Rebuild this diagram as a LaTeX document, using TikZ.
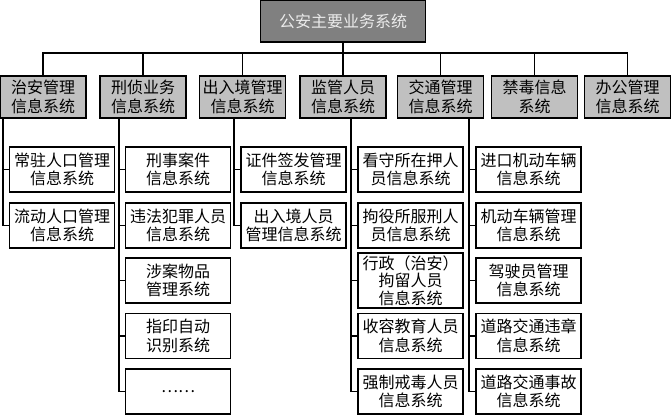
\documentclass[tikz,border=0pt]{standalone}
\usepackage{fontspec}
\newfontfamily\cjk{Noto Sans CJK SC}
\usepackage{tikz}
\usetikzlibrary{calc}

\definecolor{topgray}{RGB}{128,128,128}
\definecolor{midgray}{RGB}{192,192,192}

\tikzset{
  topbox/.style={draw, line width=1.3pt, fill=topgray, text=white!92!black,
    minimum width=165pt, minimum height=42pt, inner sep=0pt,
    font=\cjk\fontsize{16pt}{18.5pt}\selectfont},
  mainbox/.style={draw, line width=1.3pt, fill=midgray,
    minimum width=86pt, minimum height=42pt, inner sep=0pt, align=center,
    font=\cjk\fontsize{16pt}{18.5pt}\selectfont},
  subbox/.style={draw, line width=1.3pt, fill=white,
    minimum width=105pt, minimum height=45pt, inner sep=0pt, align=center,
    font=\cjk\fontsize{16pt}{18.5pt}\selectfont},
  link/.style={line width=1.8pt}
}

\begin{document}
\begin{tikzpicture}[x=1pt, y=-1pt, line join=miter]
\useasboundingbox (0,0) rectangle (671,415);

% Sistema principale
\node[topbox] (top) at (343,21) {公安主要业务系统};
\coordinate (bus) at (343,53);

% Sottosistemi
\node[mainbox] (zhian)    at (43,97)    {治安管理\\信息系统};
\node[mainbox] (xingzhen) at (143,97)   {刑侦业务\\信息系统};
\node[mainbox] (churu)    at (242.5,97) {出入境管理\\信息系统};
\node[mainbox] (jianguan) at (343,97)   {监管人员\\信息系统};
\node[mainbox] (jiaotong) at (440.5,97) {交通管理\\信息系统};
\node[mainbox] (jindu)    at (534.5,97) {禁毒信息\\系统};
\node[mainbox] (bangong)  at (627.5,97) {办公管理\\信息系统};

\draw[link] (top.south) -- (bus);
\foreach \n in {zhian,xingzhen,churu,jianguan,jiaotong,jindu,bangong}
  \draw[link] (\n.north) |- (bus);

%治安
\node[subbox] (za1) at (62,169.5) {常驻人口管理\\信息系统};
\node[subbox] (za2) at (62,225.5) {流动人口管理\\信息系统};

% 刑侦
\node[subbox] (xz1) at (178,169.5) {刑事案件\\信息系统};
\node[subbox] (xz2) at (178,225.5) {违法犯罪人员\\信息系统};
\node[subbox] (xz3) at (178,280.5) {涉案物品\\管理系统};
\node[subbox] (xz4) at (178,336)   {指印自动\\识别系统};
\node[subbox] (xz5) at (178,391.5) {……};

% 出入境
\node[subbox] (cr1) at (293.5,169.5) {证件签发管理\\信息系统};
\node[subbox] (cr2) at (293.5,225.5) {出入境人员\\管理信息系统};

% 监管
\node[subbox] (jg1) at (410.5,169.5) {看守所在押人\\员信息系统};
\node[subbox] (jg2) at (410.5,225.5) {拘役所服刑人\\员信息系统};
\node[subbox, minimum height=55pt,
  font=\cjk\fontsize{16pt}{17.5pt}\selectfont]
              (jg3) at (410.5,280.5) {行政（治安）\\拘留人员\\信息系统};
\node[subbox] (jg4) at (410.5,336)   {收容教育人员\\信息系统};
\node[subbox] (jg5) at (410.5,391.5) {强制戒毒人员\\信息系统};

% 交通
\node[subbox] (jt1) at (528.5,169.5) {进口机动车辆\\信息系统};
\node[subbox] (jt2) at (528.5,225.5) {机动车辆管理\\信息系统};
\node[subbox] (jt3) at (528.5,280.5) {驾驶员管理\\信息系统};
\node[subbox] (jt4) at (528.5,336)   {道路交通违章\\信息系统};
\node[subbox] (jt5) at (528.5,391.5) {道路交通事故\\信息系统};

% Collegamenti
\foreach \g/\c/\k in {zhian/za/2, xingzhen/xz/5, churu/cr/2, jianguan/jg/5, jiaotong/jt/5} {
  \coordinate (\c-s) at ([xshift=-6pt]\c1.west);
  \draw[link] (\c-s |- \g.south) -- (\c-s |- \c\k.west) -- (\c\k.west);
  \foreach \i in {1,...,\k}
    \draw[link] (\c-s |- \c\i.west) -- (\c\i.west);
}

\end{tikzpicture}
\end{document}
